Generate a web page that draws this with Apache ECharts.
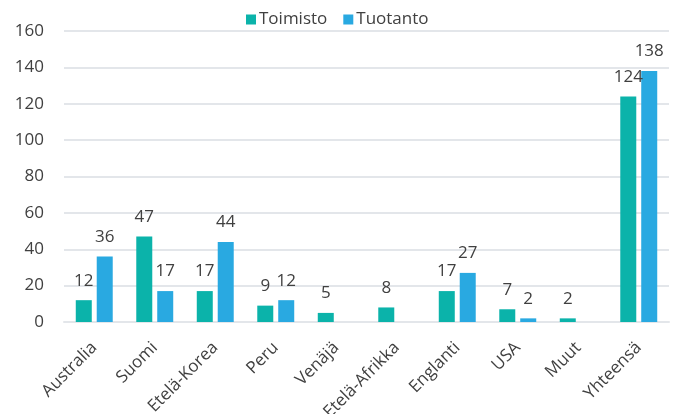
<!DOCTYPE html>
<html>
<head>
<meta charset="utf-8">
<script src="https://cdn.jsdelivr.net/npm/echarts@6/dist/echarts.min.js"></script>
<style>
  html, body { margin: 0; padding: 0; background: #fff; }
  #chart { width: 681px; height: 414px; }
</style>
</head>
<body>
<div id="chart"></div>
<script>
  // maat
  var categories = ['Australia', 'Suomi', 'Etelä-Korea', 'Peru', 'Venäjä', 'Etelä-Afrikka', 'Englanti', 'USA', 'Muut', 'Yhteensä'];
  var toimisto = [12, 47, 17, 9, 5, 8, 17, 7, 2, 124];
  var tuotanto = [36, 17, 44, 12, null, null, 27, 2, null, 138];
  var yTicks = { min: 0, max: 160, step: 20 };

  var font = '"Open Sans", "Noto Sans", sans-serif';
  var txt = '#404040';

  var myChart = echarts.init(document.getElementById('chart'));

  function labelOpt() {
    return {
      show: true,
      position: 'top',
      distance: 11,
      color: txt,
      fontSize: 17,
      fontFamily: font
    };
  }

  myChart.setOption({
    animation: false,
    textStyle: { fontFamily: font },
    legend: {
      top: 6,
      left: 241,
      itemWidth: 10,
      itemHeight: 10,
      itemGap: 16,
      icon: 'rect',
      textStyle: { color: txt, fontSize: 17, fontFamily: font, padding: [0, 0, 0, -2] }
    },
    grid: { left: 64, right: 12, top: 31, bottom: 92, containLabel: false, outerBoundsMode: 'none' },
    xAxis: {
      type: 'category',
      data: categories,
      axisTick: { show: false },
      axisLine: { lineStyle: { color: '#E3E6EA', width: 2 } },
      axisLabel: {
        rotate: 45,
        interval: 0,
        margin: 23,
        color: txt,
        fontSize: 17,
        fontFamily: font
      }
    },
    yAxis: {
      type: 'value',
      min: yTicks.min,
      max: yTicks.max,
      interval: yTicks.step,
      axisLine: { show: false },
      axisTick: { show: false },
      splitLine: { lineStyle: { color: '#E3E6EA', width: 2 } },
      axisLabel: { color: txt, fontSize: 17, fontFamily: font, margin: 20 }
    },
    series: [
      {
        name: 'Toimisto',
        type: 'bar',
        data: toimisto,
        barWidth: 16,
        barGap: '31%',
        itemStyle: { color: '#0BB3AA' },
        label: labelOpt()
      },
      {
        name: 'Tuotanto',
        type: 'bar',
        data: tuotanto,
        barWidth: 16,
        itemStyle: { color: '#29A9E1' },
        label: labelOpt()
      }
    ]
  });
</script>
</body>
</html>
